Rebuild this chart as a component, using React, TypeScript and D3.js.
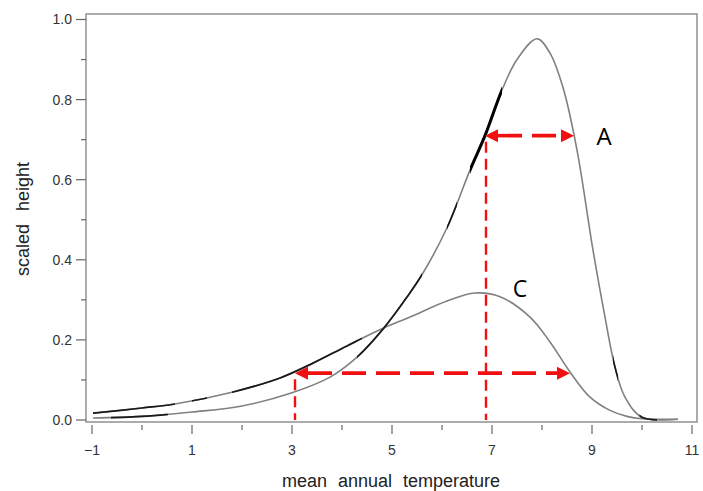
import React, { useEffect, useRef } from 'react';
import * as d3 from 'd3';

// curve A (tall, narrow)
const tempA = [-0.98, 0, 1, 2, 3, 3.76, 4.3, 4.82, 5.3, 5.62, 6.1, 6.56, 6.86, 7.2, 7.5, 7.9, 8.16, 8.42, 8.7, 9.02, 9.26, 9.46, 9.66, 10.0, 10.72];
const heightA = [0.005, 0.009, 0.02, 0.035, 0.068, 0.107, 0.157, 0.227, 0.307, 0.367, 0.48, 0.624, 0.71, 0.824, 0.9, 0.952, 0.916, 0.83, 0.674, 0.424, 0.257, 0.132, 0.057, 0.007, 0.002];

// curve C (low, wide)
const tempC = [-0.98, 0, 0.66, 1.82, 2.76, 3.42, 4.1, 4.82, 5.36, 6.1, 6.66, 7.16, 7.76, 8.16, 8.56, 8.96, 9.36, 9.7, 10.0, 10.72];
const heightC = [0.017, 0.03, 0.04, 0.07, 0.105, 0.142, 0.185, 0.229, 0.257, 0.297, 0.317, 0.308, 0.257, 0.195, 0.12, 0.057, 0.024, 0.009, 0.003, 0.002];

// stretches drawn darker on each curve (temperature ranges)
const darkA = [[-0.62, 0.52], [4.3, 5.6], [6.1, 6.3], [9.42, 9.52], [9.95, 10.3]];
const boldA = [[6.56, 7.2]];
const darkC = [[-1, 0.66], [1.0, 1.3], [1.8, 4.4]];

// arrows: level, from, to
const arrowA = { y: 0.71, x0: 6.86, x1: 8.64 };
const arrowC = { y: 0.117, x0: 3.06, x1: 8.56 };

const xTicks = [-1, 0, 1, 2, 3, 4, 5, 6, 7, 8, 9, 10, 11];
const yTicks = [0, 0.1, 0.2, 0.3, 0.4, 0.5, 0.6, 0.7, 0.8, 0.9, 1.0];

const App = () => {
  const svgRef = useRef(null);

  useEffect(() => {
    const svg = d3.select(svgRef.current);
    svg.selectAll('*').remove();

    const W = 703, H = 491;
    const box = { left: 86, top: 14, right: 697, bottom: 422 };
    const x = d3.scaleLinear().domain([-1, 11]).range([92, 692]);
    const y = d3.scaleLinear().domain([0, 1]).range([420, 19.5]);
    const font = '"Liberation Sans", Arial, sans-serif';

    svg.attr('width', W).attr('height', H);
    svg.append('rect').attr('width', W).attr('height', H).attr('fill', '#fff');

    // frame
    svg.append('rect')
      .attr('x', box.left).attr('y', box.top)
      .attr('width', box.right - box.left).attr('height', box.bottom - box.top)
      .attr('fill', 'none').attr('stroke', '#808080').attr('stroke-width', 1.3);

    // y ticks
    yTicks.forEach((t, i) => {
      const major = i % 2 === 0;
      svg.append('line')
        .attr('x1', box.left - (major ? 10 : 5)).attr('x2', box.left)
        .attr('y1', y(t)).attr('y2', y(t))
        .attr('stroke', '#666').attr('stroke-width', 1.2);
      if (major) {
        svg.append('text')
          .attr('x', 72).attr('y', y(t)).attr('dy', '0.35em')
          .attr('text-anchor', 'end').attr('font-family', font).attr('font-size', 14)
          .attr('fill', '#333').text(t.toFixed(1));
      }
    });

    // x ticks
    xTicks.forEach(t => {
      const major = Math.abs(t % 2) === 1;
      svg.append('line')
        .attr('x1', x(t)).attr('x2', x(t))
        .attr('y1', box.bottom + 3).attr('y2', box.bottom + (major ? 12 : 8))
        .attr('stroke', '#666').attr('stroke-width', 1.2);
      if (major) {
        svg.append('text')
          .attr('x', x(t)).attr('y', 455)
          .attr('text-anchor', 'middle').attr('font-family', font).attr('font-size', 14)
          .attr('fill', '#333').text(t < 0 ? `\u2212${-t}` : `${t}`);
      }
    });

    // axis titles
    svg.append('text')
      .attr('x', 391).attr('y', 487)
      .attr('text-anchor', 'middle').attr('font-family', font).attr('font-size', 18)
      .style('word-spacing', '6px').attr('fill', '#222')
      .text('mean annual temperature');
    svg.append('text')
      .attr('transform', 'translate(29,219) rotate(-90)')
      .attr('text-anchor', 'middle').attr('font-family', font).attr('font-size', 18)
      .style('word-spacing', '8px').attr('fill', '#222')
      .text('scaled height');

    const line = d3.line().curve(d3.curveCatmullRom.alpha(0.5)).x(d => x(d[0])).y(d => y(d[1]));
    const ptsA = tempA.map((t, i) => [t, heightA[i]]);
    const ptsC = tempC.map((t, i) => [t, heightC[i]]);

    // clip paths for darker stretches
    const defs = svg.append('defs');
    const addClip = (id, ranges) => {
      const cp = defs.append('clipPath').attr('id', id);
      ranges.forEach(([a, b]) => {
        cp.append('rect').attr('x', x(a)).attr('y', 0).attr('width', x(b) - x(a)).attr('height', H);
      });
    };
    addClip('clipDarkA', darkA);
    addClip('clipBoldA', boldA);
    addClip('clipDarkC', darkC);

    const drawCurve = (pts, color, width, clip) => {
      const p = svg.append('path').datum(pts)
        .attr('fill', 'none').attr('stroke', color).attr('stroke-width', width)
        .attr('stroke-linejoin', 'round').attr('d', line);
      if (clip) p.attr('clip-path', `url(#${clip})`);
    };

    drawCurve(ptsC, '#808080', 1.6);
    drawCurve(ptsA, '#808080', 1.6);
    drawCurve(ptsC, '#1a1a1a', 1.7, 'clipDarkC');
    drawCurve(ptsA, '#1a1a1a', 1.7, 'clipDarkA');
    drawCurve(ptsA, '#000', 3, 'clipBoldA');

    // red dashed guides
    const red = '#f01010';
    svg.append('line')
      .attr('x1', x(arrowC.x0)).attr('x2', x(arrowC.x0))
      .attr('y1', y(arrowC.y) + 6).attr('y2', y(0))
      .attr('stroke', red).attr('stroke-width', 2.4).attr('stroke-dasharray', '11,6');
    svg.append('line')
      .attr('x1', x(arrowA.x0) + 1).attr('x2', x(arrowA.x0) + 1)
      .attr('y1', y(arrowA.y) + 6).attr('y2', y(0))
      .attr('stroke', red).attr('stroke-width', 2.4).attr('stroke-dasharray', '11,6');

    const drawArrow = (a) => {
      const yy = y(a.y);
      const xa = x(a.x0), xb = x(a.x1);
      const head = 13, half = 6.5;
      svg.append('line')
        .attr('x1', xa + head).attr('x2', xb - head)
        .attr('y1', yy).attr('y2', yy)
        .attr('stroke', red).attr('stroke-width', 3.6).attr('stroke-dasharray', '24,10');
      svg.append('path')
        .attr('d', `M${xa},${yy}L${xa + head},${yy - half}L${xa + head},${yy + half}Z`)
        .attr('fill', red);
      svg.append('path')
        .attr('d', `M${xb},${yy}L${xb - head},${yy - half}L${xb - head},${yy + half}Z`)
        .attr('fill', red);
    };
    drawArrow(arrowA);
    drawArrow(arrowC);

    // curve labels
    svg.append('text')
      .attr('x', 604).attr('y', 145).attr('text-anchor', 'middle')
      .attr('font-family', '"Open Sans", sans-serif').attr('font-size', 24)
      .attr('fill', '#000').text('A');
    svg.append('text')
      .attr('x', 520).attr('y', 297).attr('text-anchor', 'middle')
      .attr('font-family', '"Open Sans", sans-serif').attr('font-size', 23)
      .attr('fill', '#000').text('C');
  }, []);

  return (
    <div style={{ position: 'absolute', left: 0, top: 0 }}>
      <svg ref={svgRef} style={{ display: 'block' }}></svg>
    </div>
  );
};

export default App;
